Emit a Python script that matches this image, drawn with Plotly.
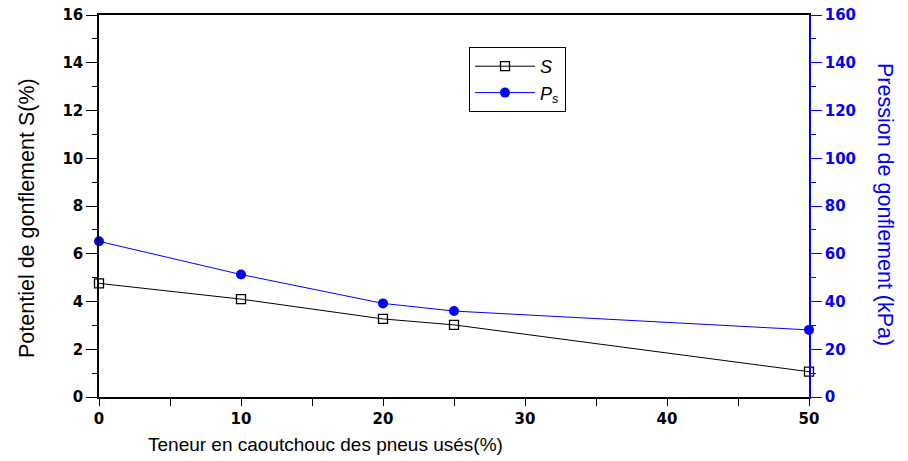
import plotly.graph_objects as go

teneur = [0, 10, 20, 25, 50]
S_values = [4.76, 4.10, 3.27, 3.02, 1.06]
Ps_values = [65.2, 51.3, 39.2, 36.0, 28.1]

x_title = "Teneur en caoutchouc des pneus usés(%)"
y_title = "Potentiel de gonflement S(%)"
y2_title = "Pression de gonflement (kPa)"

BLUE = "#0000ff"
FONT = "Liberation Sans"
TICKFONT = "DejaVu Sans"

W, H = 908, 461
L, T, PW, PH = 99, 15, 710, 382

fig = go.Figure()
fig.add_trace(go.Scatter(
    x=teneur, y=S_values, name="<i>S</i>", mode="lines+markers",
    line=dict(color="black", width=1),
    marker=dict(symbol="square-open", size=9, color="black", line=dict(width=1.3)),
    cliponaxis=False,
))
fig.add_trace(go.Scatter(
    x=teneur, y=Ps_values, name="<i>P<sub>s</sub></i>", mode="lines+markers",
    line=dict(color=BLUE, width=1),
    marker=dict(symbol="circle", size=10, color=BLUE),
    yaxis="y2", cliponaxis=False,
))

tickfont = dict(family=TICKFONT, size=15, color="black", weight="bold")

fig.update_layout(
    width=W, height=H,
    margin=dict(l=L, r=W - L - PW, t=T, b=H - T - PH, autoexpand=False),
    plot_bgcolor="white", paper_bgcolor="white",
    showlegend=True,
    legend=dict(
        x=(469 - L) / PW, y=(T + PH - 47) / PH, xanchor="left", yanchor="top",
        bordercolor="black", borderwidth=1, bgcolor="white",
        font=dict(family=FONT, size=18, color="black"),
        itemwidth=60, tracegroupgap=0,
    ),
    xaxis=dict(
        range=[0, 50], dtick=10, tick0=0, automargin=False,
        showgrid=False, zeroline=False, ticklabeloverflow="allow",
        showline=True, linecolor="black", linewidth=1.5, mirror=True,
        ticks="outside", ticklen=7, tickwidth=1.2, tickcolor="black",
        minor=dict(dtick=5, ticks="outside", ticklen=7, tickcolor="black", tickwidth=1.2),
        tickfont=tickfont,
    ),
    yaxis=dict(
        range=[0, 16], dtick=2, tick0=0, automargin=False,
        showgrid=False, zeroline=False, ticklabeloverflow="allow",
        showline=True, linecolor="black", linewidth=1.5,
        ticks="outside", ticklen=11, tickwidth=1.2, tickcolor="black",
        minor=dict(dtick=1, ticks="outside", ticklen=5, tickcolor="black", tickwidth=1.2),
        tickfont=tickfont,
    ),
    yaxis2=dict(
        range=[0, 160], dtick=20, tick0=0, automargin=False,
        overlaying="y", side="right", ticklabeloverflow="allow",
        showgrid=False, zeroline=False,
        showline=True, linecolor=BLUE, linewidth=1.5,
        ticks="outside", ticklen=11, tickwidth=1.2, tickcolor=BLUE,
        minor=dict(dtick=10, ticks="outside", ticklen=5, tickcolor=BLUE, tickwidth=1.2),
        tickfont=dict(family=TICKFONT, size=15, color=BLUE, weight="bold"),
    ),
    annotations=[
        dict(text=x_title, xref="paper", yref="paper",
             x=(325 - L) / PW, y=-(445 - (T + PH)) / PH, xanchor="center", yanchor="middle",
             showarrow=False, font=dict(family=FONT, size=19, color="black")),
        dict(text=y_title, xref="paper", yref="paper",
             x=-(L - 27) / PW, y=(T + PH - 218) / PH, xanchor="center", yanchor="middle",
             textangle=-90, showarrow=False, font=dict(family=FONT, size=21.5, color="black")),
        dict(text=y2_title, xref="paper", yref="paper",
             x=1 + (885 - (L + PW)) / PW, y=(T + PH - 204) / PH, xanchor="center", yanchor="middle",
             textangle=90, showarrow=False, font=dict(family=FONT, size=21.5, color=BLUE)),
    ],
)

fig.write_html("out.html", config={"displayModeBar": False},
               post_script="document.body.style.margin='0px';")
